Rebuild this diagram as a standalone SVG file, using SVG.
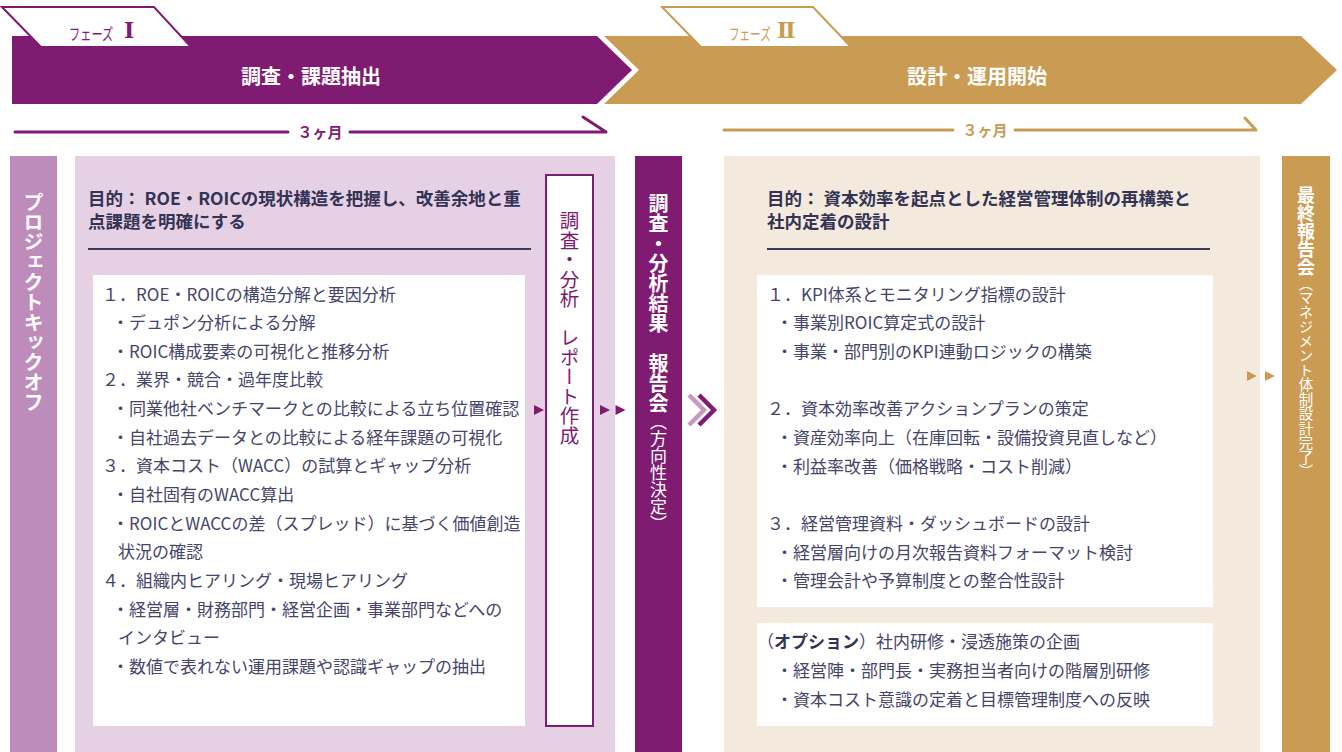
<svg xmlns="http://www.w3.org/2000/svg" width="1342" height="752" viewBox="0 0 1342 752">
  <style>
    text { font-family: "Noto Sans CJK JP", "Noto Sans", sans-serif; }
    .banner { fill: #FFFFFF; font-size: 20px; font-weight: 700; text-anchor: middle; dominant-baseline: central; }
    .dur { font-size: 15px; font-weight: 700; text-anchor: middle; dominant-baseline: central; }
    .tab { font-size: 16px; font-weight: 400; }
    .num { font-family: "DejaVu Serif", "Liberation Serif", "Noto Sans CJK JP", serif; font-size: 22px; font-weight: 700; }
    .title { fill: #333355; font-size: 17.5px; font-weight: 700; dominant-baseline: central; }
    .body { fill: #45456A; font-size: 17px; dominant-baseline: central; }
    .vert { writing-mode: vertical-rl; text-orientation: mixed; }
    .vwhite { fill: #FFFFFF; font-weight: 700; font-size: 20px; }
    .sep { stroke: #3A3A5E; stroke-width: 2; }
  </style>

  <!-- Top banners -->
  <g id="phase2-banner">
    <polygon points="604,36 1301,36 1337,70 1301,104 604,104 639,70" fill="#CA9B52"/>
    <polygon points="662,7 813,7 851,47 701,47" fill="#FFFFFF" stroke="#CA9B52" stroke-width="2" stroke-linejoin="miter"/>
    <text class="tab" transform="translate(729,39.5) scale(0.66,1)" fill="#CA9B52">フェーズ</text>
    <text class="num" x="777" y="38" fill="#CA9B52">Ⅱ</text>
    <text class="banner" x="977" y="75">設計・運用開始</text>
  </g>
  <g id="phase1-banner">
    <polygon points="12,36 597,36 632,70 597,104 12,104" fill="#801B72"/>
    <polygon points="2,7 154,7 191,47 41,47" fill="#FFFFFF" stroke="#801B72" stroke-width="2" stroke-linejoin="miter"/>
    <text class="tab" transform="translate(69,39.5) scale(0.7,1)" fill="#801B72">フェーズ</text>
    <text class="num" x="124" y="38" fill="#801B72">Ⅰ</text>
    <text class="banner" x="311" y="75">調査・課題抽出</text>
  </g>

  <!-- Duration arrows -->
  <g id="duration1">
    <path d="M15,132 H288 M350,132 H606 L583,117" fill="none" stroke="#801B72" stroke-width="3" stroke-linecap="round" stroke-linejoin="round"/>
    <text class="dur" x="320" y="131" fill="#801B72">３ヶ月</text>
  </g>
  <g id="duration2">
    <path d="M724,130 H953 M1015,130 H1256 L1245,118" fill="none" stroke="#CA9B52" stroke-width="3" stroke-linecap="round" stroke-linejoin="round"/>
    <text class="dur" x="985" y="129" fill="#CA9B52">３ヶ月</text>
  </g>

  <!-- Kickoff column -->
  <g id="kickoff">
    <rect x="10" y="156" width="47" height="596" fill="#BE8CBB"/>
    <text class="vert vwhite" x="33.5" y="192">プロジェクトキックオフ</text>
  </g>

  <!-- Phase I panel -->
  <g id="phase1-panel">
    <rect x="75" y="156" width="540" height="596" fill="#E6D0E4"/>
    <text class="title" x="88" y="197">目的： ROE・ROICの現状構造を把握し、改善余地と重</text>
    <text class="title" x="88" y="220">点課題を明確にする</text>
    <line class="sep" x1="88" y1="249" x2="531" y2="249"/>
  </g>

  <g id="phase1-items">
    <rect x="93" y="275" width="432" height="451" fill="#FFFFFF"/>
    <text class="body" x="102" y="293">１．ROE・ROICの構造分解と要因分析</text>
    <text class="body" x="112" y="321.5">・デュポン分析による分解</text>
    <text class="body" x="112" y="350">・ROIC構成要素の可視化と推移分析</text>
    <text class="body" x="102" y="378.5">２．業界・競合・過年度比較</text>
    <text class="body" x="112" y="407">・同業他社ベンチマークとの比較による立ち位置確認</text>
    <text class="body" x="112" y="436">・自社過去データとの比較による経年課題の可視化</text>
    <text class="body" x="102" y="464.5">３．資本コスト（WACC）の試算とギャップ分析</text>
    <text class="body" x="112" y="493">・自社固有のWACC算出</text>
    <text class="body" x="112" y="522">・ROICとWACCの差（スプレッド）に基づく価値創造</text>
    <text class="body" x="118" y="550.5">状況の確認</text>
    <text class="body" x="102" y="579">４．組織内ヒアリング・現場ヒアリング</text>
    <text class="body" x="112" y="608">・経営層・財務部門・経営企画・事業部門などへの</text>
    <text class="body" x="118" y="636.5">インタビュー</text>
    <text class="body" x="112" y="665">・数値で表れない運用課題や認識ギャップの抽出</text>
  </g>

  <g id="report-box">
    <rect x="546" y="175" width="47" height="551" fill="#FFFFFF" stroke="#801B72" stroke-width="2"/>
    <text class="vert" x="569.5" y="211" fill="#801B72" font-size="19.5">調査・分析　レポート作成</text>
  </g>

  <g id="interim-report">
    <rect x="635" y="156" width="47" height="596" fill="#801B72"/>
    <text class="vert" x="658.5" y="193" fill="#FFFFFF"><tspan font-weight="700" font-size="20">調査・分析結果　報告会</tspan><tspan font-size="17">（方向性決定）</tspan></text>
  </g>

  <!-- Phase II panel -->
  <g id="phase2-panel">
    <rect x="724" y="156" width="536" height="596" fill="#F3EADD"/>
    <text class="title" x="767" y="197">目的： 資本効率を起点とした経営管理体制の再構築と</text>
    <text class="title" x="767" y="220">社内定着の設計</text>
    <line class="sep" x1="767" y1="249" x2="1210" y2="249"/>
  </g>

  <g id="phase2-items">
    <rect x="757" y="275" width="456" height="332" fill="#FFFFFF"/>
    <text class="body" x="767" y="293">１．KPI体系とモニタリング指標の設計</text>
    <text class="body" x="776" y="321.5">・事業別ROIC算定式の設計</text>
    <text class="body" x="776" y="350">・事業・部門別のKPI連動ロジックの構築</text>
    <text class="body" x="767" y="407">２．資本効率改善アクションプランの策定</text>
    <text class="body" x="776" y="436">・資産効率向上（在庫回転・設備投資見直しなど）</text>
    <text class="body" x="776" y="465">・利益率改善（価格戦略・コスト削減）</text>
    <text class="body" x="767" y="522">３．経営管理資料・ダッシュボードの設計</text>
    <text class="body" x="776" y="551">・経営層向けの月次報告資料フォーマット検討</text>
    <text class="body" x="776" y="579">・管理会計や予算制度との整合性設計</text>
  </g>

  <g id="phase2-option">
    <rect x="757" y="623" width="456" height="103" fill="#FFFFFF"/>
    <text class="body" x="757" y="640">（<tspan font-weight="700" fill="#333355">オプション</tspan>）社内研修・浸透施策の企画</text>
    <text class="body" x="776" y="669">・経営陣・部門長・実務担当者向けの階層別研修</text>
    <text class="body" x="776" y="698">・資本コスト意識の定着と目標管理制度への反映</text>
  </g>

  <g id="final-report">
    <rect x="1282" y="156" width="48" height="596" fill="#CA9B52"/>
    <text class="vert" x="1306" y="186" fill="#FFFFFF"><tspan font-weight="700" font-size="18">最終報告会</tspan><tspan font-size="14.5">（マネジメント体制設計完了）</tspan></text>
  </g>

  <!-- Connectors -->
  <g id="connectors">
    <polygon points="534,405 544,410 534,415" fill="#801B72"/>
    <polygon points="600,405 610,410 600,415" fill="#801B72"/>
    <polygon points="615.5,405 625.5,410 615.5,415" fill="#801B72"/>
    <polyline points="689,395 704,410 689,425" fill="none" stroke="#C597C2" stroke-width="4.5"/>
    <polyline points="699,395 714,410 699,425" fill="none" stroke="#801B72" stroke-width="4.5"/>
    <polygon points="1247,371 1257,376 1247,381" fill="#CA9B52"/>
    <polygon points="1265,371 1275,376 1265,381" fill="#CA9B52"/>
  </g>
</svg>
